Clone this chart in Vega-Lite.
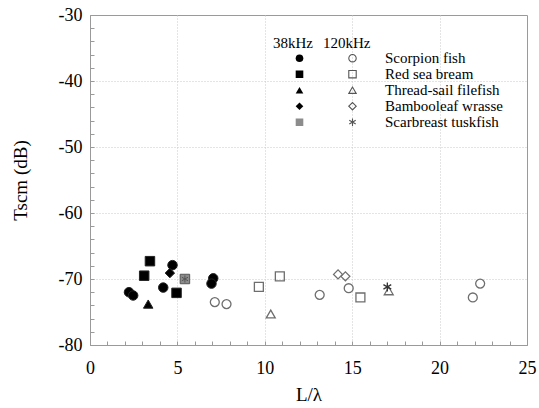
{
  "$schema": "https://vega.github.io/schema/vega-lite/v6.json",
  "width": 437,
  "height": 330,
  "autosize": "none",
  "padding": {"left": 90, "top": 15, "right": 12, "bottom": 63},
  "background": "white",
  "config": {
    "font": "Liberation Serif, Times New Roman, serif",
    "view": {"stroke": "#9a9a9a", "strokeWidth": 1},
    "axis": {
      "domainColor": "#9a9a9a",
      "tickColor": "#9a9a9a",
      "tickSize": -4,
      "gridColor": "#c8c8c8",
      "gridDash": [1, 2],
      "labelFont": "Liberation Serif, Times New Roman, serif",
      "labelFontSize": 18,
      "labelColor": "black",
      "titleFont": "Liberation Serif, Times New Roman, serif",
      "titleFontSize": 19,
      "titleFontWeight": "normal",
      "titleColor": "black"
    },
    "legend": {
      "titleFont": "Liberation Serif, Times New Roman, serif",
      "titleFontSize": 15,
      "titleFontWeight": "normal",
      "titleColor": "black",
      "labelFont": "Liberation Serif, Times New Roman, serif",
      "labelFontSize": 15,
      "labelColor": "black"
    }
  },
  "data": {
    "values": [
      {"L": 2.23, "TS": -72.0, "species": "Scorpion fish", "freq": "38kHz"},
      {"L": 2.47, "TS": -72.5, "species": "Scorpion fish", "freq": "38kHz"},
      {"L": 4.19, "TS": -71.3, "species": "Scorpion fish", "freq": "38kHz"},
      {"L": 4.72, "TS": -67.9, "species": "Scorpion fish", "freq": "38kHz"},
      {"L": 7.05, "TS": -69.9, "species": "Scorpion fish", "freq": "38kHz"},
      {"L": 6.95, "TS": -70.7, "species": "Scorpion fish", "freq": "38kHz"},
      {"L": 3.43, "TS": -67.3, "species": "Red sea bream", "freq": "38kHz"},
      {"L": 3.1, "TS": -69.5, "species": "Red sea bream", "freq": "38kHz"},
      {"L": 4.95, "TS": -72.1, "species": "Red sea bream", "freq": "38kHz"},
      {"L": 3.33, "TS": -73.8, "species": "Thread-sail filefish", "freq": "38kHz"},
      {"L": 4.57, "TS": -69.1, "species": "Bambooleaf wrasse", "freq": "38kHz"},
      {"L": 5.43, "TS": -70.0, "species": "Scarbreast tuskfish", "freq": "38kHz"},
      {"L": 7.14, "TS": -73.5, "species": "Scorpion fish", "freq": "120kHz"},
      {"L": 7.81, "TS": -73.8, "species": "Scorpion fish", "freq": "120kHz"},
      {"L": 13.14, "TS": -72.4, "species": "Scorpion fish", "freq": "120kHz"},
      {"L": 14.8, "TS": -71.4, "species": "Scorpion fish", "freq": "120kHz"},
      {"L": 21.9, "TS": -72.8, "species": "Scorpion fish", "freq": "120kHz"},
      {"L": 22.32, "TS": -70.7, "species": "Scorpion fish", "freq": "120kHz"},
      {"L": 9.66, "TS": -71.2, "species": "Red sea bream", "freq": "120kHz"},
      {"L": 10.86, "TS": -69.6, "species": "Red sea bream", "freq": "120kHz"},
      {"L": 15.47, "TS": -72.8, "species": "Red sea bream", "freq": "120kHz"},
      {"L": 10.34, "TS": -75.3, "species": "Thread-sail filefish", "freq": "120kHz"},
      {"L": 17.09, "TS": -71.8, "species": "Thread-sail filefish", "freq": "120kHz"},
      {"L": 14.19, "TS": -69.3, "species": "Bambooleaf wrasse", "freq": "120kHz"},
      {"L": 14.61, "TS": -69.6, "species": "Bambooleaf wrasse", "freq": "120kHz"},
      {"L": 17.01, "TS": -71.2, "species": "Scarbreast tuskfish", "freq": "120kHz"}
    ]
  },
  "encoding": {
    "x": {
      "field": "L",
      "type": "quantitative",
      "scale": {"domain": [0, 25], "nice": false, "zero": false},
      "axis": {
        "title": "L/λ",
        "values": [0,1,2,3,4,5,6,7,8,9,10,11,12,13,14,15,16,17,18,19,20,21,22,23,24,25],
        "labelExpr": "datum.value % 5 === 0 ? '' + datum.value : ''",
        "gridOpacity": {"condition": {"test": "datum.value % 5 === 0 && datum.value > 0 && datum.value < 25", "value": 1}, "value": 0},
        "labelPadding": 18,
        "labelFlush": false,
        "titlePadding": 8
      }
    },
    "y": {
      "field": "TS",
      "type": "quantitative",
      "scale": {"domain": [-80, -30], "nice": false, "zero": false},
      "axis": {
        "title": "Tscm (dB)",
        "values": [-80,-78,-76,-74,-72,-70,-68,-66,-64,-62,-60,-58,-56,-54,-52,-50,-48,-46,-44,-42,-40,-38,-36,-34,-32,-30],
        "labelExpr": "datum.value % 10 === 0 ? '' + datum.value : ''",
        "gridOpacity": {"condition": {"test": "datum.value % 10 === 0 && datum.value > -80 && datum.value < -30", "value": 1}, "value": 0},
        "labelPadding": 12,
        "labelFlush": false,
        "titlePadding": 28
      }
    }
  },
  "layer": [
    {
      "transform": [{"filter": "datum.freq === '38kHz'"}],
      "mark": {"type": "point", "filled": true, "size": 90, "strokeWidth": 1, "opacity": 1},
      "encoding": {
        "shape": {
          "field": "species",
          "type": "nominal",
          "scale": {
            "domain": ["Scorpion fish", "Red sea bream", "Thread-sail filefish", "Bambooleaf wrasse", "Scarbreast tuskfish"],
            "range": ["circle", "square", "triangle-up", "diamond", "M-1,-1H1V1H-1Z M0,-0.75V0.75 M-0.65,-0.375L0.65,0.375 M-0.65,0.375L0.65,-0.375"]
          },
          "legend": {
            "title": "38kHz",
            "orient": "none",
            "legendX": 183,
            "legendY": 21,
            "symbolSize": 58,
            "symbolOffset": 19,
            "symbolStrokeColor": "#444",
            "symbolStrokeWidth": 0.8,
            "labelExpr": "''",
            "rowPadding": 0,
            "clipHeight": 14.4,
            "titlePadding": 0
          }
        },
        "fill": {
          "field": "species",
          "type": "nominal",
          "scale": {
            "domain": ["Scorpion fish", "Red sea bream", "Thread-sail filefish", "Bambooleaf wrasse", "Scarbreast tuskfish"],
            "range": ["black", "black", "black", "black", "#8c8c8c"]
          },
          "legend": {
            "title": "38kHz",
            "orient": "none",
            "legendX": 183,
            "legendY": 21,
            "symbolSize": 58,
            "symbolOffset": 19,
            "symbolStrokeColor": "#444",
            "symbolStrokeWidth": 0.8,
            "labelExpr": "''",
            "rowPadding": 0,
            "clipHeight": 14.4,
            "titlePadding": 0
          }
        },
        "stroke": {"condition": {"test": "datum.species === 'Scarbreast tuskfish'", "value": "#555"}, "value": "#222"}
      }
    },
    {
      "transform": [{"filter": "datum.freq === '120kHz'"}],
      "mark": {"type": "point", "filled": false, "size": 80, "strokeWidth": 1.3, "opacity": 1},
      "encoding": {
        "shape": {
          "field": "species",
          "type": "nominal",
          "scale": {
            "domain": ["Scorpion fish", "Red sea bream", "Thread-sail filefish", "Bambooleaf wrasse", "Scarbreast tuskfish"],
            "range": ["circle", "square", "triangle-up", "diamond", "M0,-1V1 M-0.87,-0.5L0.87,0.5 M-0.87,0.5L0.87,-0.5"]
          },
          "legend": {
            "title": "120kHz",
            "orient": "none",
            "legendX": 233,
            "legendY": 21,
            "symbolSize": 55,
            "symbolOffset": 22,
            "labelOffset": 25,
            "rowPadding": 0,
            "clipHeight": 14.4,
            "titlePadding": 0,
            "symbolStrokeColor": "#555",
            "symbolStrokeWidth": 1.1
          }
        },
        "stroke": {"condition": {"test": "datum.species === 'Scarbreast tuskfish'", "value": "#333"}, "value": "#6e6e6e"}
      }
    }
  ],
  "resolve": {
    "scale": {"shape": "independent", "fill": "independent"},
    "legend": {"shape": "independent", "fill": "independent"}
  }
}
